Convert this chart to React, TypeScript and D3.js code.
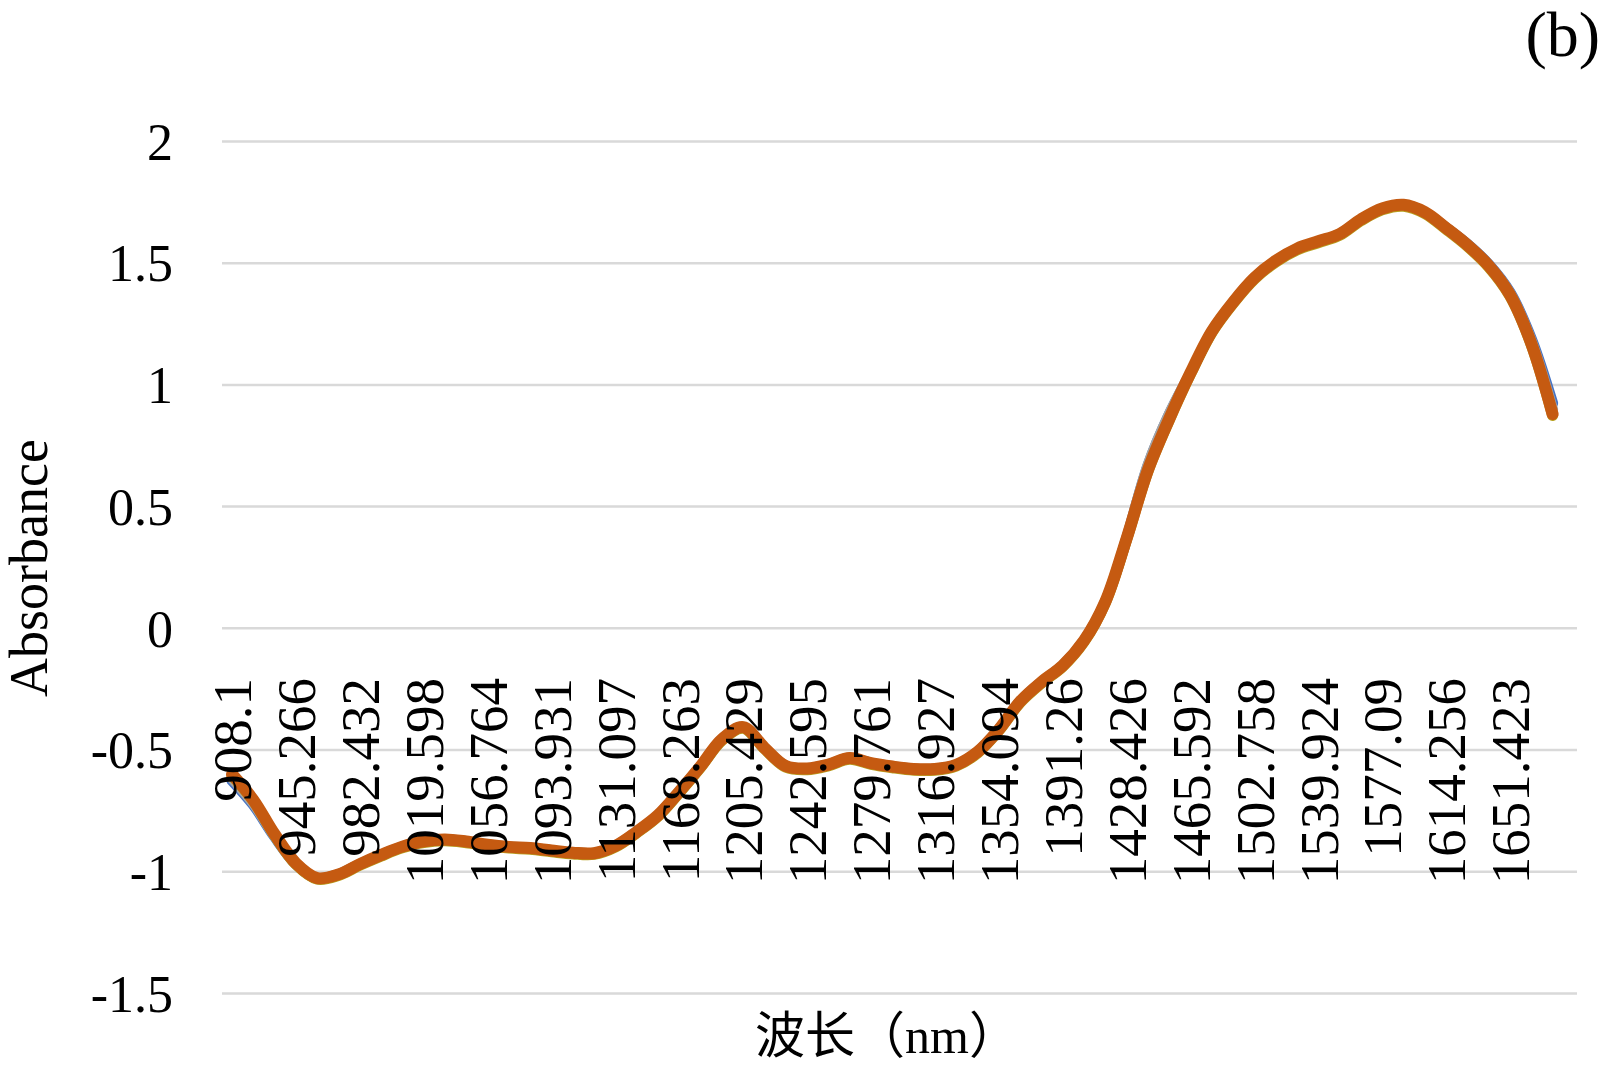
import React from 'react';
import * as d3 from 'd3';

// Wavelength samples (nm), every 4th spectrometer channel
const wavelengths = [
  908.1, 920.489, 932.877, 945.266, 957.655, 970.043, 982.432, 994.821, 1007.209, 1019.598,
  1031.987, 1044.375, 1056.764, 1069.153, 1081.542, 1093.931, 1106.319, 1118.708, 1131.097, 1143.486,
  1155.874, 1168.263, 1180.652, 1193.04, 1205.429, 1217.818, 1230.206, 1242.595, 1254.984, 1267.372,
  1279.761, 1292.15, 1304.538, 1316.927, 1329.316, 1341.705, 1354.094, 1366.482, 1378.871, 1391.26,
  1403.648, 1416.037, 1428.426, 1440.815, 1453.203, 1465.592, 1477.981, 1490.369, 1502.758, 1515.147,
  1527.535, 1539.924, 1552.313, 1564.701, 1577.09, 1589.479, 1601.867, 1614.256, 1626.645, 1639.034,
  1651.423, 1663.811, 1676.2,
];

const absBlue = [
  -0.625, -0.725, -0.856, -0.968, -1.028, -1.012, -0.97, -0.932, -0.898, -0.876,
  -0.869, -0.877, -0.89, -0.899, -0.904, -0.914, -0.923, -0.925, -0.896, -0.838,
  -0.77, -0.673, -0.569, -0.458, -0.408, -0.493, -0.567, -0.577, -0.561, -0.534,
  -0.555, -0.569, -0.579, -0.579, -0.562, -0.509, -0.417, -0.302, -0.222, -0.154,
  -0.052, 0.108, 0.368, 0.668, 0.878, 1.048, 1.218, 1.338, 1.438, 1.508,
  1.558, 1.588, 1.618, 1.678, 1.723, 1.738, 1.708, 1.645, 1.578, 1.495,
  1.38, 1.19, 0.925,
];

const absGray = [
  -0.615, -0.718, -0.852, -0.966, -1.027, -1.011, -0.969, -0.931, -0.897, -0.875,
  -0.868, -0.876, -0.889, -0.898, -0.903, -0.913, -0.922, -0.924, -0.894, -0.836,
  -0.768, -0.671, -0.567, -0.456, -0.406, -0.491, -0.566, -0.576, -0.56, -0.533,
  -0.554, -0.568, -0.578, -0.578, -0.561, -0.508, -0.416, -0.301, -0.221, -0.153,
  -0.051, 0.109, 0.369, 0.669, 0.879, 1.049, 1.219, 1.339, 1.439, 1.509,
  1.559, 1.589, 1.619, 1.679, 1.724, 1.739, 1.709, 1.645, 1.576, 1.492,
  1.375, 1.18, 0.9,
];

const absYellow = [
  -0.605, -0.709, -0.851, -0.97, -1.031, -1.016, -0.974, -0.936, -0.902, -0.88,
  -0.873, -0.881, -0.894, -0.903, -0.908, -0.918, -0.927, -0.929, -0.899, -0.841,
  -0.773, -0.676, -0.572, -0.461, -0.411, -0.496, -0.571, -0.581, -0.565, -0.538,
  -0.559, -0.573, -0.583, -0.583, -0.566, -0.513, -0.421, -0.306, -0.226, -0.158,
  -0.056, 0.104, 0.364, 0.644, 0.854, 1.044, 1.214, 1.334, 1.434, 1.504,
  1.554, 1.584, 1.614, 1.674, 1.719, 1.734, 1.704, 1.639, 1.569, 1.484,
  1.364, 1.164, 0.874,
];

const absOrange = [
  -0.6, -0.705, -0.846, -0.965, -1.026, -1.011, -0.969, -0.931, -0.897, -0.875,
  -0.868, -0.876, -0.889, -0.898, -0.903, -0.913, -0.922, -0.924, -0.894, -0.836,
  -0.768, -0.671, -0.567, -0.456, -0.406, -0.491, -0.566, -0.576, -0.56, -0.533,
  -0.554, -0.568, -0.578, -0.578, -0.561, -0.508, -0.416, -0.301, -0.221, -0.153,
  -0.051, 0.109, 0.369, 0.65, 0.86, 1.05, 1.22, 1.34, 1.44, 1.51,
  1.56, 1.59, 1.62, 1.68, 1.725, 1.74, 1.71, 1.645, 1.575, 1.49,
  1.37, 1.17, 0.88,
];

const seriesList = [
  { name: 's1', values: absBlue, color: '#4472C4', width: 11 },
  { name: 's2', values: absGray, color: '#A5A5A5', width: 11 },
  { name: 's3', values: absYellow, color: '#B8A020', width: 11 },
  { name: 's4', values: absOrange, color: '#C55A11', width: 12 },
];

const xTickLabels = [
  '908.1', '945.266', '982.432', '1019.598', '1056.764', '1093.931', '1131.097',
  '1168.263', '1205.429', '1242.595', '1279.761', '1316.927', '1354.094', '1391.26',
  '1428.426', '1465.592', '1502.758', '1539.924', '1577.09', '1614.256', '1651.423',
];

const yTicks = [-1.5, -1, -0.5, 0, 0.5, 1, 1.5, 2];

const SERIF = "'Liberation Serif', 'Times New Roman', 'Noto Sans CJK SC', serif";

export default function App() {
  const W = 1600;
  const H = 1069;
  const plotLeft = 222;
  const plotRight = 1577;
  const x = d3.scaleLinear().domain([908.1, 1676.2]).range([232, 1552.6]);
  const y = d3.scaleLinear().domain([-1.5, 2]).range([993.4, 141.5]);

  const lineGen = d3
    .line<number>()
    .x((_d, i) => x(wavelengths[i]))
    .y((d) => y(d))
    .curve(d3.curveCatmullRom.alpha(0.5));

  return (
    <svg
      width={W}
      height={H}
      style={{ position: 'absolute', left: 0, top: 0, display: 'block', background: '#fff' }}
    >
      <rect x={0} y={0} width={W} height={H} fill="#fff" />
      {yTicks.map((t) => (
        <line
          key={'g' + t}
          x1={plotLeft}
          x2={plotRight}
          y1={y(t)}
          y2={y(t)}
          stroke="#D9D9D9"
          strokeWidth={2.5}
        />
      ))}
      {yTicks.map((t) => (
        <text
          key={'yl' + t}
          x={173}
          y={y(t)}
          dy="0.35em"
          textAnchor="end"
          fontSize={52}
          fontFamily={SERIF}
          fill="#000"
        >
          {String(t)}
        </text>
      ))}
      {seriesList.map((s) => (
        <path
          key={s.name}
          d={lineGen(s.values) || ''}
          fill="none"
          stroke={s.color}
          strokeWidth={s.width}
          strokeLinecap="round"
          strokeLinejoin="round"
        />
      ))}
      {xTickLabels.map((l) => (
        <text
          key={'xl' + l}
          transform={`translate(${x(parseFloat(l))},678) rotate(-90)`}
          dy="0.35em"
          textAnchor="end"
          fontSize={55}
          fontFamily={SERIF}
          fill="#000"
        >
          {l}
        </text>
      ))}
      <text
        transform="translate(47,568) rotate(-90)"
        textAnchor="middle"
        fontSize={54}
        fontFamily={SERIF}
        fill="#000"
      >
        Absorbance
      </text>
      <text x={887} y={1053} textAnchor="middle" fontSize={50} fontFamily={SERIF} fill="#000">
        波长（nm）
      </text>
      <text x={1600} y={56} textAnchor="end" fontSize={64} fontFamily={SERIF} fill="#000">
        (b)
      </text>
    </svg>
  );
}
